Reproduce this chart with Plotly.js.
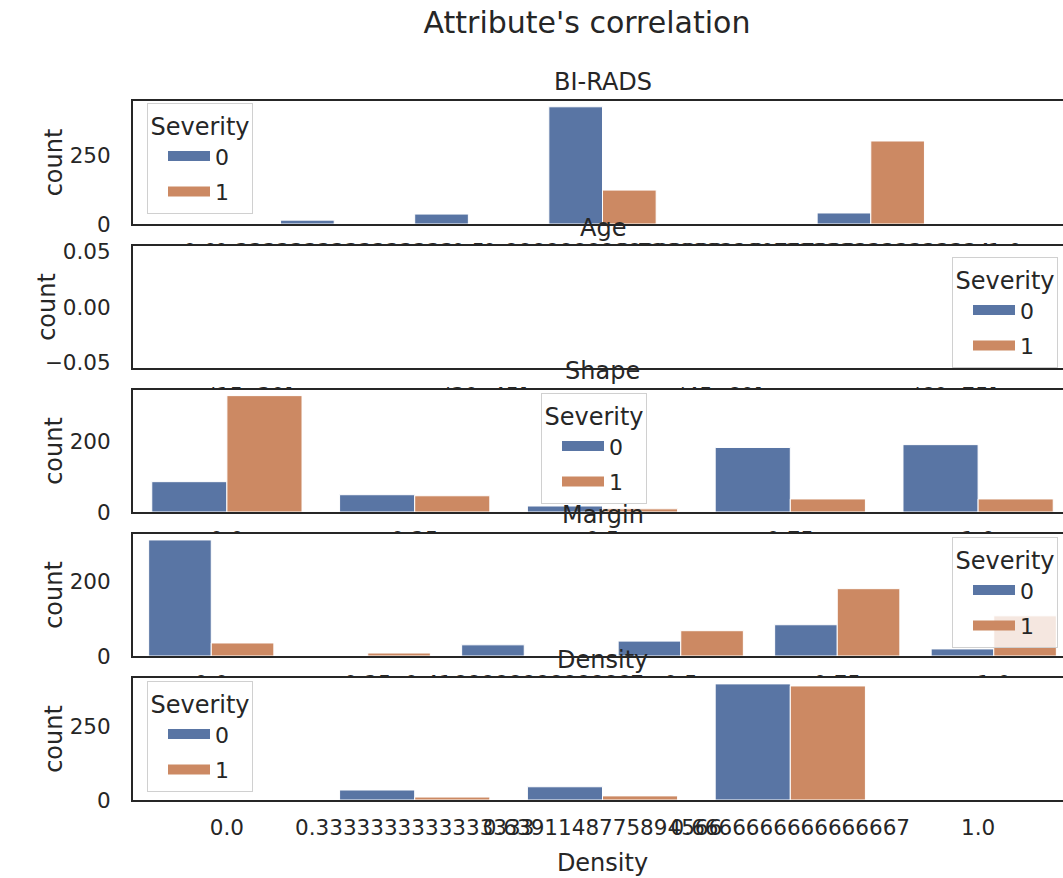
<!DOCTYPE html>
<html>
<head>
<meta charset="utf-8">
<script src="https://cdn.plot.ly/plotly-3.0.1.min.js"></script>
<style>
html,body{margin:0;padding:0;overflow:hidden;background:#ffffff;}
#chart{width:1080px;height:878px;}
</style>
</head>
<body>
<div id="chart"></div>
<script>
// ---------- data ----------
const severityNames = ["0", "1"];

const biradsCats = ["0.0", "0.3333333333333333", "0.5", "0.6666666666666666", "0.7160883280757098", "0.8333333333333334", "1.0"];
const biradsSev0 = [0, 14, 36, 425, 0, 40, 0];
const biradsSev1 = [0, 0, 0, 123, 0, 301, 0];

const ageCats = ["(15, 30]", "(30, 45]", "(45, 60]", "(60, 75]"];
const ageSev0 = [0, 0, 0, 0];
const ageSev1 = [0, 0, 0, 0];

const shapeCats = ["0.0", "0.25", "0.5", "0.75", "1.0"];
const shapeSev0 = [86, 49, 17, 183, 191];
const shapeSev1 = [330, 46, 9, 37, 37];

const marginCats = ["0.0", "0.25", "0.4166666666666667", "0.5", "0.75", "1.0"];
const marginSev0 = [312, 0, 30, 40, 84, 19];
const marginSev1 = [35, 8, 0, 68, 181, 108];

const densityCats = ["0.0", "0.3333333333333333", "0.6391148775894566", "0.6666666666666667", "1.0"];
const densitySev0 = [0, 34, 45, 395, 0];
const densitySev1 = [0, 10, 14, 388, 0];

const panelTitles = ["BI-RADS", "Age", "Shape", "Margin", "Density"];
const chartTitle = "Attribute's correlation";
const legendTitle = "Severity";
const yLabel = "count";
const xLabelBottom = "Density";

// ---------- styling / layout ----------
const W = 1080, H = 878;
const colors = ["#5975A4", "#CC8963"];
const textColor = "#262626";
const font = "DejaVu Sans";

const panels = [
  {cats: biradsCats, s0: biradsSev0, s1: biradsSev1, range: [0, 446], dtick: 250, fmt: "d",
   frame: [101, 224], titleY: 82, legend: {left: 147, top: 103}},
  {cats: ageCats, s0: ageSev0, s1: ageSev1, range: [-0.055, 0.055], dtick: 0.05, fmt: ".2f",
   frame: [246, 368], titleY: 228, legend: {right: 1058, top: 257}},
  {cats: shapeCats, s0: shapeSev0, s1: shapeSev1, range: [0, 346], dtick: 200, fmt: "d",
   frame: [390, 512], titleY: 371, legend: {left: 541, top: 393}},
  {cats: marginCats, s0: marginSev0, s1: marginSev1, range: [0, 328], dtick: 200, fmt: "d",
   frame: [534, 656], titleY: 515, legend: {right: 1058, top: 537}},
  {cats: densityCats, s0: densitySev0, s1: densitySev1, range: [0, 415], dtick: 250, fmt: "d",
   frame: [678, 800], titleY: 660, legend: {left: 147, top: 681}}
];

const xDomain = [133 / W, 1072 / W];
const traces = [];
const layout = {
  width: W, height: H,
  margin: {l: 0, r: 0, t: 0, b: 0, pad: 0},
  paper_bgcolor: "#ffffff",
  plot_bgcolor: "#ffffff",
  font: {family: font, color: textColor, size: 21.5},
  barmode: "group",
  bargap: 0.2,
  bargroupgap: 0,
  title: {text: chartTitle, x: 587 / W, xanchor: "center", y: 1 - 22 / H, yanchor: "middle",
          font: {family: font, size: 30, color: textColor}},
  annotations: [],
  shapes: []
};

panels.forEach((p, i) => {
  const k = i + 1;
  const sfx = k === 1 ? "" : String(k);
  const xa = "x" + sfx, ya = "y" + sfx;
  const legendId = "legend" + sfx;
  const series = [p.s0, p.s1];

  series.forEach((vals, s) => {
    traces.push({
      type: "bar", x: p.cats, y: vals, xaxis: xa, yaxis: ya,
      name: severityNames[s], showlegend: false,
      marker: {color: colors[s], line: {color: "#ffffff", width: 1}},
      hoverinfo: "skip"
    });
  });
  // legend entries (wide patch style)
  severityNames.forEach((nm, s) => {
    traces.push({
      type: "scatter", mode: "lines", x: [null], y: [null], xaxis: xa, yaxis: ya,
      name: nm, legend: legendId, legendgroup: "g" + k + "_" + s, showlegend: true,
      line: {color: colors[s], width: 10}, hoverinfo: "skip"
    });
  });

  const yDom = [1 - p.frame[1] / H, 1 - p.frame[0] / H];
  layout["xaxis" + sfx] = {
    domain: xDomain, anchor: ya, type: "category",
    categoryorder: "array", categoryarray: p.cats,
    range: [-0.5, p.cats.length - 0.5],
    showline: true, mirror: true, linecolor: textColor, linewidth: 2,
    ticks: "", showgrid: false, zeroline: false, tickangle: 0,
    tickfont: {family: font, size: 21.5, color: textColor},
    ticklabelstandoff: 7, ticklabeloverflow: "allow", automargin: false
  };
  if (k === 5) {
    layout["xaxis" + sfx].title = {text: xLabelBottom, font: {family: font, size: 24, color: textColor}, standoff: 15};
  }
  layout["yaxis" + sfx] = {
    domain: yDom, anchor: xa, range: p.range, dtick: p.dtick, tick0: 0, tickformat: p.fmt,
    showline: true, mirror: true, linecolor: textColor, linewidth: 2,
    ticks: "", showgrid: false, zeroline: false,
    tickfont: {family: font, size: 21.5, color: textColor},
    ticklabelstandoff: 16, automargin: false,
    title: {text: yLabel, font: {family: font, size: 24, color: textColor}}
  };

  const lg = {
    title: {text: legendTitle, side: "top center", font: {family: font, size: 24, color: textColor}},
    font: {family: font, size: 22, color: textColor},
    bgcolor: "rgba(255,255,255,0.8)", bordercolor: "#d0d0d0", borderwidth: 1,
    yanchor: "top", y: 1 - p.legend.top / H,
    traceorder: "grouped", tracegroupgap: 4, itemwidth: 42, indentation: 15
  };
  if (p.legend.left !== undefined) { lg.x = p.legend.left / W; lg.xanchor = "left"; }
  else { lg.x = p.legend.right / W; lg.xanchor = "right"; }
  layout[legendId] = lg;

  layout.annotations.push({
    text: panelTitles[i], xref: "paper", yref: "paper",
    x: (xDomain[0] + xDomain[1]) / 2, y: 1 - p.titleY / H,
    xanchor: "center", yanchor: "middle", showarrow: false,
    font: {family: font, size: 24, color: textColor}
  });

  // each panel's own white background, drawn inside its subplot layer so it
  // hides the previous panel's overflowing tick labels (like matplotlib)
  if (k > 1) {
    layout.shapes.push({
      type: "rect", xref: xa, yref: ya, layer: "below",
      x0: -50, x1: 50, y0: -100000, y1: 100000,
      fillcolor: "#ffffff", line: {width: 0}
    });
  }
});

Plotly.newPlot("chart", traces, layout, {staticPlot: true, displayModeBar: false});
</script>
</body>
</html>
